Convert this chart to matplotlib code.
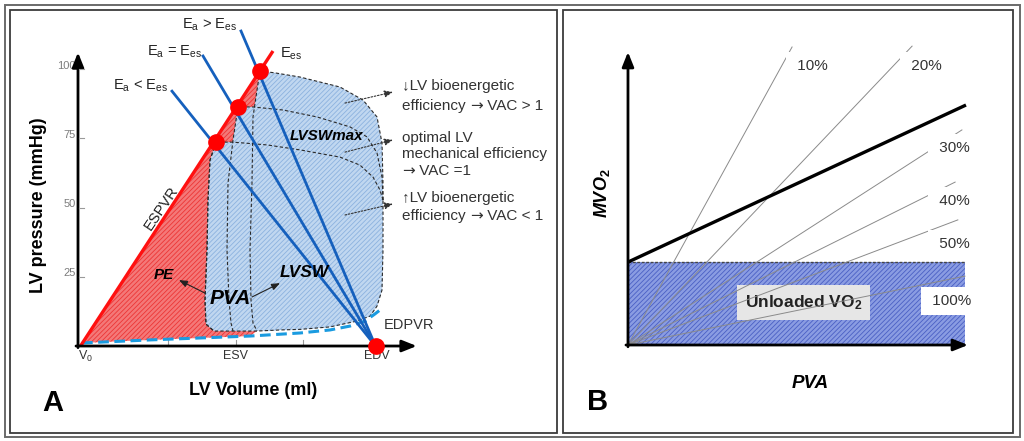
import numpy as np
import matplotlib
matplotlib.use('Agg')
import matplotlib.pyplot as plt
from matplotlib.patches import Polygon, Rectangle

plt.rcParams['font.family'] = ['Liberation Sans', 'DejaVu Sans']
plt.rcParams['mathtext.fontset'] = 'custom'
plt.rcParams['mathtext.rm'] = 'Liberation Sans'
plt.rcParams['mathtext.it'] = 'Liberation Sans:italic'
plt.rcParams['mathtext.bf'] = 'Liberation Sans:bold'
plt.rcParams['hatch.linewidth'] = 0.6

# ---------------- panel A data (volume ml, pressure mmHg) ----------------
v0, esv, edv = 1.0, 63.0, 119.0
espvr_v = [1.0, 78.0]
espvr_p = [0.0, 106.5]
# end-systolic points (Ea<Ees, Ea=Ees, Ea>Ees)
es_v = [55.2, 64.0, 72.8]
es_p = [73.6, 86.3, 99.3]
# upper ends of the Ea lines
ea_top_v = [37.6, 50.0, 65.2]
ea_top_p = [92.0, 104.7, 113.7]
ea_labels = [r'E$_\mathrm{a}$ < E$_\mathrm{es}$', r'E$_\mathrm{a}$ = E$_\mathrm{es}$',
             r'E$_\mathrm{a}$ > E$_\mathrm{es}$']

edpvr_v = [1.6, 28.8, 48.8, 68.8, 88.8, 100.8, 108.8, 114.8, 118.8, 120.8]
edpvr_p = [1.1, 2.2, 2.9, 3.6, 4.7, 5.8, 7.2, 9.0, 11.6, 13.0]

# shared filling limb + isovolumic contraction of the loops
base_v = [54.4, 62.0, 71.6, 80.8, 88.8, 100.8, 111.6, 116.8, 119.6, 121.6, 122.0, 122.0]
base_p = [5.4, 5.4, 5.4, 5.8, 6.0, 6.9, 9.0, 10.8, 14.4, 20.2, 34.7, 52.7]

# isovolumic relaxation limbs (from ES point downwards)
left1_v = [55.2, 52.8, 52.0, 51.6, 50.8, 51.2, 54.4]
left1_p = [73.6, 67.1, 52.7, 34.7, 16.6, 7.9, 5.4]
left2_v = [64.0, 62.0, 60.0, 59.6, 60.4, 61.2, 62.0]
left2_p = [86.3, 74.4, 58.8, 34.7, 16.6, 8.3, 5.4]
left3_v = [72.8, 71.6, 70.0, 69.6, 68.8, 69.2, 70.0, 71.6]
left3_p = [99.3, 92.4, 82.7, 58.8, 34.7, 16.6, 8.3, 5.4]

# ejection limbs (from right side to ES point)
top1_v = [122.0, 120.8, 118.0, 112.8, 104.8, 88.8, 75.6, 62.0, 55.2]
top1_p = [52.7, 56.3, 61.0, 65.3, 68.2, 70.8, 72.6, 73.6, 73.6]
top2_v = [122.0, 121.6, 119.6, 115.6, 108.8, 95.6, 82.0, 70.0, 64.0]
top2_p = [52.7, 61.0, 69.7, 75.5, 79.1, 82.7, 85.2, 86.3, 86.3]
top3_v = [122.0, 122.0, 121.6, 119.6, 114.0, 104.8, 88.8, 78.8, 72.8]
top3_p = [52.7, 58.8, 73.3, 82.7, 88.8, 93.5, 97.1, 98.6, 99.3]

p_ticks = [25, 50, 75, 100]
v_ticks = [36, 63, 90]

# right-hand notes, one entry per line
note_lines = ['\u2193LV bioenergetic', 'efficiency \u2192 VAC > 1',
              'optimal LV', 'mechanical efficiency', '\u2192 VAC =1',
              '\u2191LV bioenergetic', 'efficiency \u2192 VAC < 1']
note_y = [92.4, 85.2, 73.6, 67.9, 61.7, 52.0, 45.5]

# ---------------- panel B data ----------------
unloaded = 28.3
pva_max = 99.4
mvo2_line_x = [0.0, 99.7]
mvo2_line_y = [28.3, 81.9]
eff_labels = ['10%', '20%', '30%', '40%', '50%', '100%']
eff_end_x = [48.4, 83.8, 98.5, 96.5, 97.3, 99.4]
eff_end_y = [101.7, 102.0, 73.4, 55.6, 42.7, 23.5]
eff_lab_x = [48.6, 82.3, 90.5, 90.5, 90.5, 88.5]
eff_lab_y = [95.2, 95.2, 67.2, 49.1, 34.5, 15.0]

W, H = 1024, 441
fig = plt.figure(figsize=(W / 100, H / 100), dpi=100)


def px_box(x0, y0, x1, y1):
    return [x0 / W, 1 - y1 / H, (x1 - x0) / W, (y1 - y0) / H]


def frame(x0, y0, x1, y1, color, lw):
    fig.add_artist(Rectangle((x0 / W, 1 - y1 / H), (x1 - x0) / W, (y1 - y0) / H,
                             transform=fig.transFigure, fill=False, ec=color, lw=lw))


frame(4.5, 4.5, 1019.5, 436.5, '#6a6a6a', 1.4)
frame(10, 10, 557, 433, '#3c3c3c', 1.3)
frame(563, 10, 1013, 433, '#3c3c3c', 1.3)

# ======================= panel A =======================
ax = fig.add_axes(px_box(10, 10, 557, 433))
ax.set_xlim(-27.2, 191.6)
ax.set_ylim(-31.4, 121.3)
ax.axis('off')

# potential energy (red) area
red_v = [espvr_v[0], es_v[2], left3_v[-1]] + edpvr_v[3::-1]
red_p = [espvr_p[0], es_p[2], left3_p[-1]] + edpvr_p[3::-1]
ax.add_patch(Polygon(np.column_stack([red_v, red_p]), closed=True, fc='#f47878',
                     ec='#ec3535', lw=0, hatch='///////', zorder=1))

loops = [(left1_v, left1_p, top1_v, top1_p),
         (left2_v, left2_p, top2_v, top2_p),
         (left3_v, left3_p, top3_v, top3_p)]

# pressure-volume loops (blue)
for lv, lp, tv, tp in loops:
    bv = [v for v in base_v if v > lv[-1]]
    bp = [p for v, p in zip(base_v, base_p) if v > lv[-1]]
    ax.add_patch(Polygon(np.column_stack([lv + bv + tv, lp + bp + tp]), closed=True,
                         fc='#c0d7f0', ec='#8cb2df', lw=0, hatch='///////', zorder=2))

dash = dict(color='#2a2a2a', lw=0.8, ls=(0, (3, 2)), zorder=3)
ax.plot(left1_v + base_v, left1_p + base_p, **dash)
for lv, lp, tv, tp in loops:
    ax.plot(tv, tp, **dash)
    ax.plot(lv, lp, **dash)

# EDPVR
ax.plot(edpvr_v, edpvr_p, color='#1a9be0', lw=2.2, ls=(0, (3.5, 1.8)), zorder=4)

# Ea lines
for tv, tp in zip(ea_top_v, ea_top_p):
    ax.plot([tv, edv], [tp, 0], color='#1560bd', lw=2.0, zorder=5)

# ESPVR
ax.plot(espvr_v, espvr_p, color='#ff1010', lw=2.4, zorder=6, solid_capstyle='butt')
ax.plot(es_v, es_p, 'o', color='#ff0000', ms=11, zorder=7)
ax.plot([edv], [0], 'o', color='#ff0000', ms=11, zorder=7, clip_on=False)

# axes with arrows
arr = dict(arrowstyle='-|>,head_length=0.55,head_width=0.22', color='k', lw=2.0,
           shrinkA=0, shrinkB=0, mutation_scale=16)
ax.annotate('', xy=(0, 106), xytext=(0, -0.6), arrowprops=arr, zorder=6)
ax.annotate('', xy=(135.5, 0), xytext=(-0.8, 0), arrowprops=arr, zorder=6)

for p in p_ticks:
    ax.plot([0.3, 2.4], [p, p], color='#9a9a9a', lw=0.8, zorder=6)
    ax.text(-1.0, p + 1.2, str(p), ha='right', va='center', fontsize=8, color='#7c7c7c')
for v in v_ticks:
    ax.plot([v, v], [0, 2.0], color='#9a9a9a', lw=0.8, zorder=1)

ax.text(3.2, -3.6, r'V$_0$', ha='center', va='center', fontsize=9, color='#333333')
ax.text(esv, -3.6, 'ESV', ha='center', va='center', fontsize=9, color='#333333')
ax.text(edv + 0.6, -3.6, 'EDV', ha='center', va='center', fontsize=9, color='#333333')

ax.text(70, -15.9, 'LV Volume (ml)', ha='center', va='center', fontsize=13, fontweight='bold')
ax.text(-15.6, 50.9, 'LV pressure (mmHg)', ha='center', va='center', fontsize=13,
        fontweight='bold', rotation=90)
ax.text(-10, -20.6, 'A', ha='center', va='center', fontsize=21, fontweight='bold')

# Ea labels
ea_lab_x = [36.0, 49.6, 63.6]
ea_lab_y = [93.9, 106.1, 115.9]
for x, y, s in zip(ea_lab_x, ea_lab_y, ea_labels):
    ax.text(x, y, s, ha='right', va='center', fontsize=10.5, color='#222222')
ax.text(80.6, 105.4, r'E$_\mathrm{es}$', ha='left', va='center', fontsize=10.5, color='#222222')

ax.text(33.2, 49.8, 'ESPVR', ha='center', va='center', fontsize=10.5, rotation=56,
        color='#222222')
ax.text(132.4, 7.6, 'EDPVR', ha='center', va='center', fontsize=10.5, color='#333333')

bi = dict(fontweight='bold', fontstyle='italic', ha='center', va='center', zorder=8)
ax.text(34.4, 25.6, 'PE', fontsize=11, **bi)
ax.text(60.8, 17.3, 'PVA', fontsize=15, **bi)
ax.text(90.4, 26.4, 'LVSW', fontsize=12.5, **bi)
ax.text(99.6, 75.8, 'LVSWmax', fontsize=11, **bi)

small = dict(arrowstyle='-|>,head_length=0.5,head_width=0.2', color='#222222', lw=0.8,
             shrinkA=0, shrinkB=0, mutation_scale=10)
ax.annotate('', xy=(40.4, 23.8), xytext=(50.8, 19.1), arrowprops=small, zorder=8)
ax.annotate('', xy=(80.8, 22.7), xytext=(69.6, 17.7), arrowprops=small, zorder=8)

dotted = dict(arrowstyle='-|>,head_length=0.5,head_width=0.2', color='#333333', lw=0.8,
              ls=(0, (1.5, 1.5)), shrinkA=0, shrinkB=0, mutation_scale=10)
for y0, y1 in [(87.7, 91.7), (70.0, 74.4), (47.3, 51.3)]:
    ax.annotate('', xy=(126, y1), xytext=(106.8, y0), arrowprops=dotted, zorder=8)

# notes: written as text runs so the right arrow can come from DejaVu Sans
fig.canvas.draw()
rend = fig.canvas.get_renderer()
inv = ax.transData.inverted()
note = dict(ha='left', va='baseline', fontsize=11, color='#333333')
for line, y in zip(note_lines, note_y):
    x = 129.6
    head, arrow, rest = line.partition('\u2192')
    runs = [(head, {}), (arrow, {'family': 'DejaVu Sans'}), (rest, {})]
    for s, kw in runs:
        if not s:
            continue
        t = ax.text(x, y, s, **note, **kw)
        bb = t.get_window_extent(renderer=rend)
        x = inv.transform((bb.x1, bb.y0))[0]

# ======================= panel B =======================
bx = fig.add_axes(px_box(563, 10, 1013, 433))
bx.set_xlim(-19.17, 113.57)
bx.set_ylim(-30.03, 114.33)
bx.axis('off')

bx.add_patch(Rectangle((0, 0), pva_max, unloaded, fc='#8a9ce2', ec='#4a5fc4', lw=0,
                       hatch='///////', zorder=1))
bx.plot([0, pva_max], [unloaded, unloaded], color='#444444', lw=1.0, ls=(0, (2, 1.2)), zorder=2)

bx.text(51.7, 14.5, r'Unloaded VO$_\mathbf{2}$', ha='center', va='center', fontsize=12.5,
        fontweight='bold', color='#222222', zorder=3,
        bbox=dict(boxstyle='square,pad=0.45', fc='#e6e6e6', ec='none'))

for ex, ey in zip(eff_end_x, eff_end_y):
    bx.plot([0, ex], [0, ey], color='#8a8a8a', lw=0.7, zorder=4)

for x, y, s in zip(eff_lab_x, eff_lab_y, eff_labels):
    bx.text(x, y, ' ' + s, ha='left', va='center', fontsize=11, color='#333333', zorder=5,
            bbox=dict(boxstyle='square,pad=0.45', fc='white', ec='none'))

bx.plot(mvo2_line_x, mvo2_line_y, color='k', lw=2.4, zorder=6, solid_capstyle='butt')

bx.annotate('', xy=(0, 100), xytext=(0, -0.6), arrowprops=arr, zorder=7)
bx.annotate('', xy=(100.3, 0), xytext=(-0.6, 0), arrowprops=arr, zorder=7)

bx.text(-7.7, 51.9, r'MVO$_\mathbf{2}$', ha='center', va='center', fontsize=13,
        fontweight='bold', fontstyle='italic', rotation=90)
bx.text(53.7, -13.0, 'PVA', ha='center', va='center', fontsize=13.5, fontweight='bold',
        fontstyle='italic')
bx.text(-9.1, -19.5, 'B', ha='center', va='center', fontsize=21, fontweight='bold')

fig.savefig('out.png', dpi=100)
